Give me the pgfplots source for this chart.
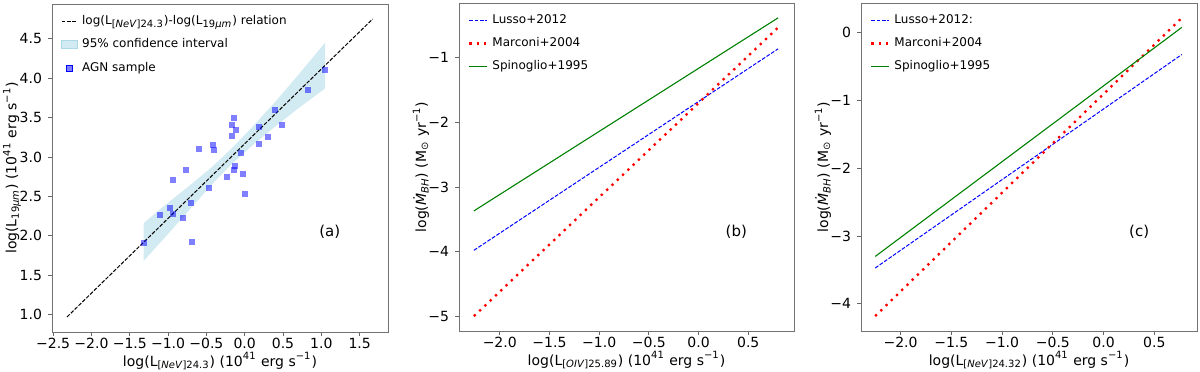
\documentclass[border=0pt]{standalone}
\usepackage{pgfplots}
\pgfplotsset{compat=1.18}
\usepackage{fontspec}
\setmainfont{DejaVu Sans}
\definecolor{lightblue}{RGB}{173,216,230}
\definecolor{mplgreen}{RGB}{0,128,0}

\newcommand{\lum}{(10\textsuperscript{41} erg s\textsuperscript{−1})}

\pgfplotsset{
  panel/.style={
    scale only axis,
    width=168pt, height=164pt,
    axis line style={black!55},
    tick align=outside,
    xtick pos=bottom, ytick pos=left,
    major tick length=2pt,
    every tick/.style={black!60},
    tick label style={font=\fontsize{7}{8.5}\selectfont},
    xticklabel style={yshift=2.5pt},
    yticklabel style={xshift=0.5pt},
    label style={font=\fontsize{7}{8.5}\selectfont},
    xlabel style={at={(axis description cs:0.5,-0.1037)}, anchor=base},
    ylabel style={at={(axis description cs:-0.098,0.5)}, anchor=base},
    legend cell align=left,
    legend style={at={(0.02,0.985)}, anchor=north west, draw=none, fill=none,
      font=\fontsize{6}{7}\selectfont, row sep=1.6pt, inner sep=1pt},
    legend image code/.code={\draw[##1] (0pt,0pt) -- (9pt,0pt);},
  },
  lusso/.style={blue, line width=0.5pt, dash pattern=on 1.9pt off 0.8pt},
  marconi/.style={red, line width=1.15pt, dash pattern=on 1.15pt off 2.5pt},
  spino/.style={mplgreen, line width=0.55pt},
}

\begin{document}
\begin{tikzpicture}

% (a)
\begin{axis}[panel,
  at={(26pt,19.5pt)}, anchor=south west,
  xmin=-2.515, xmax=1.87, ymin=0.78, ymax=4.94,
  xtick={-2.5,-2,-1.5,-1,-0.5,0,0.5,1,1.5},
  xticklabels={−2.5,−2.0,−1.5,−1.0,−0.5,0.0,0.5,1.0,1.5},
  ytick={1,1.5,2,2.5,3,3.5,4,4.5},
  yticklabels={1.0,1.5,2.0,2.5,3.0,3.5,4.0,4.5},
  xlabel={log(L\textsubscript{[\textit{NeV}]24.3}) \lum},
  ylabel={log(L\textsubscript{19\textit{μm}}) \lum},
  ylabel style={at={(axis description cs:-0.106,0.5)}},
]
\addlegendimage{legend image code/.code={\draw[black, line width=0.5pt, dash pattern=on 1.9pt off 0.8pt] (0pt,0pt) -- (8pt,0pt);}}
\addlegendentry{log(L\textsubscript{[\textit{NeV}]24.3})-log(L\textsubscript{19\textit{μm}}) relation}
\addlegendimage{legend image code/.code={\fill[lightblue, fill opacity=0.55] (0pt,-2pt) rectangle (8pt,2pt);}}
\addlegendentry{95\% confidence interval}
\addlegendimage{legend image code/.code={\fill[blue, fill opacity=0.5] (2.5pt,-1.5pt) rectangle (5.5pt,1.5pt);}}
\addlegendentry{AGN sample}

\addplot[fill=lightblue, fill opacity=0.55, draw=none, forget plot] coordinates {
  (-1.32,2.16) (-1.04,2.39) (-0.74,2.62) (-0.43,2.87) (-0.17,3.11) (0.08,3.36) (0.39,3.69) (0.69,4.03) (1.05,4.45)
  (1.05,3.87) (0.69,3.61) (0.39,3.38) (0.08,3.13) (-0.17,2.91) (-0.43,2.65) (-0.74,2.31) (-1.04,1.98) (-1.32,1.68)
} -- cycle;

\addplot[only marks, mark=square*, mark size=1.5pt, blue,
  mark options={fill=blue, fill opacity=0.5, draw opacity=0}, forget plot] coordinates {
  (-1.32,1.91) (-1.10,2.26) (-0.98,2.35) (-0.94,2.28) (-0.94,2.71)
  (-0.80,2.23) (-0.77,2.83) (-0.70,2.41) (-0.69,1.92) (-0.60,3.10)
  (-0.47,2.61) (-0.42,3.15) (-0.40,3.09) (-0.23,2.74) (-0.16,3.27)
  (-0.16,3.40) (-0.14,3.50) (-0.12,3.34) (-0.14,2.83) (-0.13,2.88)
  (-0.05,3.05) (-0.02,2.79) (0.00,2.53) (0.19,3.38) (0.19,3.17)
  (0.30,3.25) (0.40,3.59) (0.49,3.40) (0.82,3.85) (1.05,4.10)
};

\addplot[black, line width=0.5pt, dash pattern=on 1.9pt off 0.8pt, forget plot] coordinates {
  (-2.32,0.97) (1.67,4.75)
};

\node[font=\fontsize{7.5}{9}\selectfont] at (axis cs:1.11,2.05) {(a)};
\end{axis}

% (b)
\begin{axis}[panel,
  at={(229.5pt,20pt)}, anchor=south west, width=167.5pt,
  xmin=-2.41, xmax=0.96, ymin=-5.23, ymax=-0.15,
  xtick={-2,-1.5,-1,-0.5,0,0.5},
  xticklabels={−2.0,−1.5,−1.0,−0.5,0.0,0.5},
  ytick={-5,-4,-3,-2,-1},
  yticklabels={−5,−4,−3,−2,−1},
  xlabel={log(L\textsubscript{[\textit{OIV}]25.89}) \lum},
  ylabel={log(\textit{Ṁ}\textsubscript{\textit{BH}}) (M\textsubscript{⊙} yr\textsuperscript{−1})},
]
\addplot[lusso] coordinates {(-2.26,-3.98) (0.80,-0.86)};
\addlegendentry{Lusso+2012}
\addplot[marconi] coordinates {(-2.26,-5.00) (0.80,-0.53)};
\addlegendentry{Marconi+2004}
\addplot[spino] coordinates {(-2.26,-3.37) (0.80,-0.38)};
\addlegendentry{Spinoglio+1995}
\node[font=\fontsize{7.5}{9}\selectfont] at (axis cs:0.38,-3.69) {(b)};
\end{axis}

% (c)
\begin{axis}[panel,
  at={(430.5pt,20pt)}, anchor=south west,
  xmin=-2.39, xmax=0.92, ymin=-4.40, ymax=0.44,
  xtick={-2,-1.5,-1,-0.5,0,0.5},
  xticklabels={−2.0,−1.5,−1.0,−0.5,0.0,0.5},
  ytick={-4,-3,-2,-1,0},
  yticklabels={−4,−3,−2,−1,0},
  xlabel={log(L\textsubscript{[\textit{NeV}]24.32}) \lum},
  ylabel={log(\textit{Ṁ}\textsubscript{\textit{BH}}) (M\textsubscript{⊙} yr\textsuperscript{−1})},
]
\addplot[lusso] coordinates {(-2.25,-3.47) (0.77,-0.32)};
\addlegendentry{Lusso+2012:}
\addplot[marconi] coordinates {(-2.25,-4.18) (0.77,0.22)};
\addlegendentry{Marconi+2004}
\addplot[spino] coordinates {(-2.25,-3.30) (0.77,0.08)};
\addlegendentry{Spinoglio+1995}
\node[font=\fontsize{7.5}{9}\selectfont] at (axis cs:0.35,-2.94) {(c)};
\end{axis}

\pgfresetboundingbox
\useasboundingbox (0,0) rectangle (600pt,185.5pt);
\end{tikzpicture}
\end{document}
